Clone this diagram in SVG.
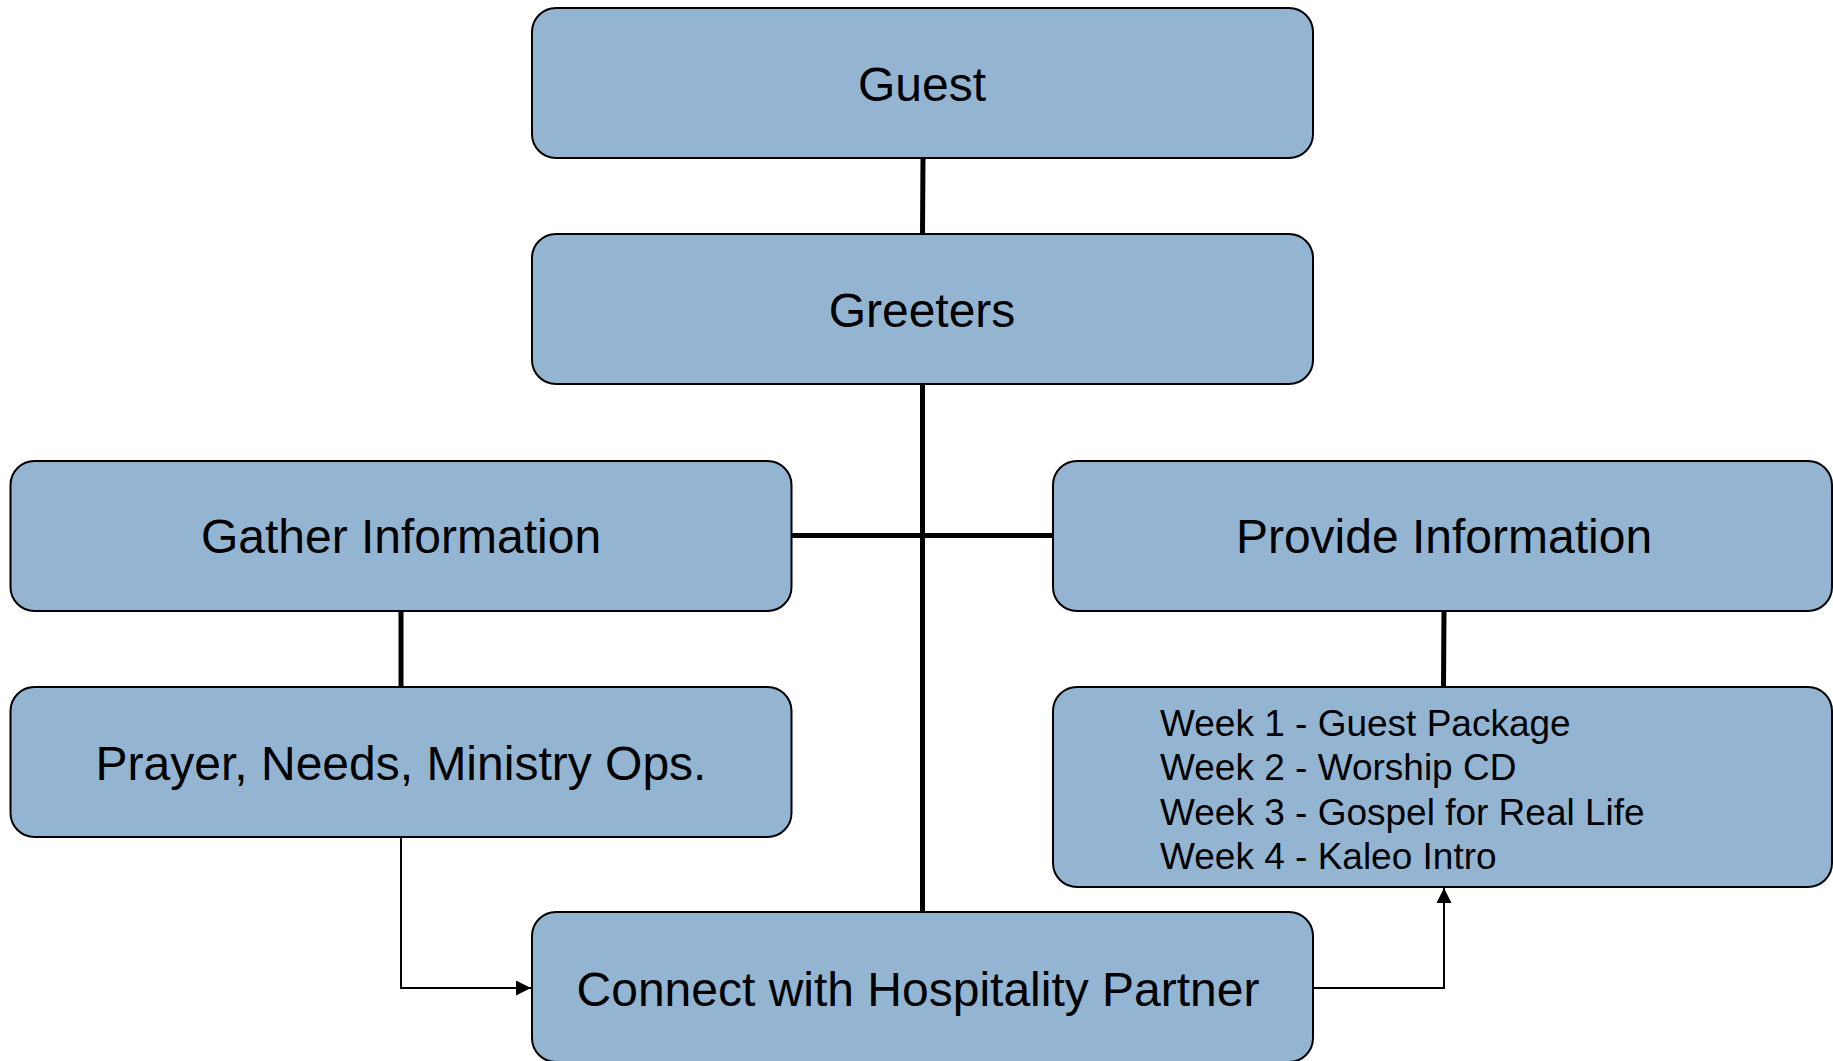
<svg xmlns="http://www.w3.org/2000/svg" width="1833" height="1061" viewBox="0 0 1833 1061">
<style>
.box{fill:#94B5D2;stroke:#000;stroke-width:2}
.t{font-family:"Liberation Sans",Arial,sans-serif;font-size:48px;fill:#000;text-anchor:middle}
.w{font-family:"Liberation Sans",Arial,sans-serif;font-size:37px;fill:#000}
.thick{fill:none;stroke:#000;stroke-width:5}
.thin{fill:none;stroke:#000;stroke-width:2}
</style>
<defs>
<marker id="arr" markerUnits="userSpaceOnUse" markerWidth="15" markerHeight="15" refX="15" refY="7.5" orient="auto" viewBox="0 0 15 15">
<path d="M0,0 L15,7.5 L0,15 z" fill="#000"/>
</marker>
</defs>
<rect width="1833" height="1061" fill="#fff"/>
<g id="connectors">
<path class="thick" d="M923,158 L922.5,234"/>
<path class="thick" d="M922.5,384 L922.5,912"/>
<path class="thick" d="M791.5,535.5 L1053,535.5"/>
<path class="thick" d="M401,611 L401,687"/>
<path class="thick" d="M1444,611 L1443.5,687"/>
<path class="thin" d="M401,837 L401,988 L531,988" marker-end="url(#arr)"/>
<path class="thin" d="M1313,988 L1444,988 L1444,888" marker-end="url(#arr)"/>
</g>
<g id="guest">
<rect class="box" x="532" y="8" width="781" height="150" rx="24"/>
<text class="t" x="922" y="101">Guest</text>
</g>
<g id="greeters">
<rect class="box" x="532" y="234" width="781" height="150" rx="24"/>
<text class="t" x="922" y="327">Greeters</text>
</g>
<g id="gather">
<rect class="box" x="10.5" y="461" width="781" height="150" rx="24"/>
<text class="t" x="401" y="553">Gather Information</text>
</g>
<g id="provide">
<rect class="box" x="1053" y="461" width="779" height="150" rx="24"/>
<text class="t" x="1444" y="553">Provide Information</text>
</g>
<g id="prayer">
<rect class="box" x="10.5" y="687" width="781" height="150" rx="24"/>
<text class="t" x="401" y="780">Prayer, Needs, Ministry Ops.</text>
</g>
<g id="weeks">
<rect class="box" x="1053" y="687" width="779" height="200" rx="24"/>
<text class="w" x="1160" y="735.5">Week 1 - Guest Package</text>
<text class="w" x="1160" y="780">Week 2 - Worship CD</text>
<text class="w" x="1160" y="824.5">Week 3 - Gospel for Real Life</text>
<text class="w" x="1160" y="869">Week 4 - Kaleo Intro</text>
</g>
<g id="connect">
<rect class="box" x="532" y="912" width="781" height="150" rx="24"/>
<text class="t" x="918" y="1006">Connect with Hospitality Partner</text>
</g>
</svg>
